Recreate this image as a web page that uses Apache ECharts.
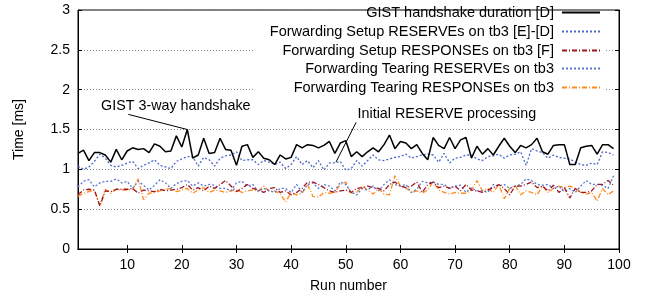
<!DOCTYPE html>
<html>
<head>
<meta charset="utf-8">
<title>GIST timing</title>
<script src="https://cdn.jsdelivr.net/npm/echarts@6/dist/echarts.min.js"></script>
</head>
<body style="margin:0">
<div id="main" style="width:646px;height:300px;"></div>
<script type="text/javascript">
// values, runs 1..99
var gist = [1.20,1.24,1.11,1.21,1.21,1.18,1.09,1.25,1.12,1.23,1.27,1.25,1.26,1.21,1.32,1.29,1.22,1.23,1.42,1.28,
    1.50,1.14,1.18,1.39,1.20,1.21,1.39,1.25,1.24,1.05,1.29,1.31,1.15,1.22,1.14,1.12,1.06,1.18,1.13,1.15,1.31,
    1.27,1.31,1.30,1.27,1.30,1.35,1.20,1.33,1.36,1.16,1.22,1.16,1.22,1.27,1.22,1.31,1.43,1.26,1.35,1.33,
    1.26,1.31,1.20,1.12,1.40,1.30,1.26,1.40,1.26,1.37,1.40,1.14,1.29,1.19,1.26,1.18,1.29,1.39,1.29,1.21,
    1.30,1.27,1.31,1.39,1.22,1.19,1.30,1.31,1.31,1.06,1.06,1.27,1.29,1.30,1.19,1.31,1.31,1.26];
var setupReserve = [1.04,1.00,1.03,1.10,1.19,1.14,1.05,1.03,1.05,1.08,1.10,1.01,1.05,1.08,1.12,1.05,1.03,1.01,1.10,1.13,
    1.16,1.16,1.04,1.15,1.12,1.04,1.14,1.17,1.18,1.22,1.11,1.12,1.12,1.06,1.11,1.09,1.06,1.09,1.01,1.06,1.16,
    1.06,1.11,1.02,1.11,0.99,1.08,1.08,1.10,0.99,1.01,1.11,1.04,1.11,1.18,1.12,1.11,1.13,1.15,1.16,1.19,
    1.14,1.16,1.18,1.19,1.18,1.09,1.20,1.08,1.14,1.15,1.18,1.18,1.13,1.11,1.16,1.17,1.19,1.14,1.18,1.19,
    1.22,1.05,1.26,1.23,1.21,1.14,1.18,1.15,1.14,1.13,1.09,1.06,1.05,1.08,1.06,1.22,1.21,1.18];
var setupResponse = [0.68,0.74,0.75,0.74,0.54,0.73,0.72,0.75,0.75,0.75,0.76,0.70,0.74,0.73,0.72,0.75,0.73,0.74,0.75,0.77,
    0.81,0.74,0.77,0.73,0.79,0.76,0.81,0.86,0.79,0.72,0.76,0.81,0.76,0.74,0.71,0.76,0.77,0.71,0.73,0.68,0.71,
    0.76,0.84,0.84,0.81,0.77,0.73,0.71,0.73,0.74,0.71,0.76,0.77,0.79,0.77,0.76,0.73,0.81,0.84,0.79,0.77,
    0.79,0.84,0.71,0.81,0.84,0.77,0.79,0.76,0.79,0.73,0.81,0.74,0.73,0.71,0.74,0.77,0.81,0.76,0.68,0.79,
    0.79,0.81,0.84,0.77,0.79,0.73,0.80,0.71,0.77,0.64,0.76,0.71,0.71,0.73,0.81,0.81,0.86,0.80];
var tearReserve = [0.78,0.85,0.87,0.78,0.83,0.85,0.85,0.88,0.83,0.85,0.76,0.85,0.80,0.74,0.80,0.87,0.83,0.76,0.82,0.85,
    0.86,0.79,0.83,0.79,0.81,0.80,0.76,0.76,0.73,0.83,0.85,0.79,0.81,0.72,0.76,0.73,0.71,0.76,0.76,0.71,0.81,
    0.71,0.81,0.83,0.76,0.81,0.79,0.73,0.84,0.81,0.71,0.68,0.76,0.74,0.79,0.73,0.81,0.87,0.81,0.79,0.81,
    0.71,0.75,0.85,0.83,0.84,0.81,0.81,0.76,0.79,0.80,0.71,0.77,0.73,0.73,0.71,0.81,0.79,0.81,0.76,0.79,
    0.81,0.88,0.86,0.81,0.80,0.81,0.76,0.79,0.72,0.76,0.71,0.79,0.86,0.81,0.81,0.80,0.76,0.92];
var tearResponse = [0.66,0.70,0.72,0.74,0.55,0.75,0.70,0.75,0.74,0.74,0.75,0.88,0.62,0.70,0.71,0.73,0.75,0.76,0.72,0.74,
    0.76,0.70,0.74,0.77,0.71,0.74,0.73,0.71,0.73,0.74,0.71,0.73,0.74,0.73,0.79,0.72,0.73,0.69,0.59,0.71,0.68,
    0.70,0.81,0.66,0.65,0.71,0.70,0.71,0.81,0.84,0.70,0.71,0.79,0.74,0.69,0.76,0.69,0.68,0.92,0.79,0.77,
    0.71,0.73,0.70,0.74,0.85,0.74,0.71,0.69,0.71,0.70,0.70,0.74,0.86,0.73,0.76,0.71,0.81,0.63,0.76,0.80,
    0.68,0.73,0.71,0.68,0.79,0.71,0.76,0.79,0.77,0.79,0.76,0.71,0.69,0.71,0.60,0.76,0.68,0.73];

var names = [
    'GIST handshake duration [D]',
    'Forwarding Setup RESERVEs on tb3 [E]-[D]',
    'Forwarding Setup RESPONSEs on tb3 [F]',
    'Forwarding Tearing RESERVEs on tb3',
    'Forwarding Tearing RESPONSEs on tb3'
];
var xTicks = [10, 20, 30, 40, 50, 60, 70, 80, 90, 100];

// annotations: [label, label position, arrow tail, arrow head] in data units
var notes = [
    ['GIST 3-way handshake', [18.9, 1.79], [10.2, 1.69], [21, 1.5]],
    ['Initial RESERVE processing', [68.5, 1.70], [51.9, 1.59], [48.2, 1.09]]
];

var FONT = 'Liberation Sans';

function pairs(arr) {
    var d = [];
    for (var i = 0; i < arr.length; i++) d.push([i + 1, arr[i]]);
    return d;
}

var styles = [
    { color: '#000000', width: 1.5, type: 'solid' },
    { color: '#4a68c8', width: 1.3, type: [2, 2] },
    { color: '#a0141e', width: 1.3, type: [5, 2, 1, 2] },
    { color: '#5a78d0', width: 1.3, type: [2, 2] },
    { color: '#ff8a1c', width: 1.3, type: [5, 2, 1, 2] }
];
var allData = [gist, setupReserve, setupResponse, tearReserve, tearResponse];

var series = [];
for (var k = 0; k < names.length; k++) {
    series.push({
        name: names[k],
        type: 'line',
        symbol: 'none',
        data: pairs(allData[k]),
        color: styles[k].color,
        lineStyle: styles[k],
        z: 10 - k
    });
}

// arrows + labels hang on the first series
series[0].markLine = {
    silent: true,
    symbol: ['none', 'arrow'],
    symbolSize: [0, 9],
    label: { show: false },
    lineStyle: { color: '#000', width: 1, type: 'solid' },
    data: notes.map(function (n) {
        return [{ coord: n[2] }, { coord: n[3] }];
    })
};
series[0].markPoint = {
    silent: true,
    symbol: 'rect',
    symbolSize: 1,
    itemStyle: { color: 'rgba(0,0,0,0)' },
    label: {
        show: true, position: 'inside', color: '#000',
        fontFamily: FONT, fontSize: 14.3,
        formatter: function (p) { return p.name; }
    },
    data: notes.map(function (n) {
        return { name: n[0], coord: n[1] };
    })
};

var legendTops = [5, 24, 43, 61, 80];
var legends = names.map(function (n, i) {
    return {
        data: [n],
        orient: 'horizontal',
        right: 45,
        top: legendTops[i],
        padding: 0,
        align: 'right',
        itemWidth: 38,
        itemHeight: 14,
        selectedMode: false,
        itemStyle: { opacity: 0 },
        textStyle: { fontFamily: FONT, fontSize: 14.5, color: '#000', padding: [0, 3, 0, 0] }
    };
});

var tickStyle = { show: true, inside: true, length: 4, lineStyle: { color: '#000', width: 1 } };

var option = {
    animation: false,
    backgroundColor: '#fff',
    textStyle: { fontFamily: FONT },
    grid: { left: 78, right: 27, top: 10, bottom: 51, show: true, borderColor: '#000', borderWidth: 1, backgroundColor: 'transparent' },
    legend: legends,
    graphic: [{
        type: 'rect', z: 1, silent: true,
        shape: { x: 253, y: 15, width: 352, height: 82 },
        style: { fill: '#fff' }
    }],
    xAxis: [{
        type: 'value', min: 1, max: 100,
        name: 'Run number', nameLocation: 'middle', nameGap: 30,
        nameTextStyle: { fontFamily: FONT, fontSize: 14, color: '#000' },
        axisLine: { show: true, lineStyle: { color: '#000' } },
        axisTick: Object.assign({ customValues: xTicks }, tickStyle),
        axisLabel: { customValues: xTicks, margin: 9, fontFamily: FONT, fontSize: 14, color: '#000' },
        splitLine: { show: false }
    }, {
        type: 'value', min: 1, max: 100, position: 'top',
        axisLine: { show: true, lineStyle: { color: '#000' } },
        axisTick: Object.assign({ customValues: xTicks }, tickStyle),
        axisLabel: { show: false },
        splitLine: { show: false }
    }],
    yAxis: [{
        type: 'value', min: 0, max: 3, interval: 0.5,
        name: 'Time [ms]', nameLocation: 'middle', nameGap: 52,
        nameTextStyle: { fontFamily: FONT, fontSize: 14, color: '#000' },
        axisLine: { show: true, lineStyle: { color: '#000' } },
        axisTick: tickStyle,
        axisLabel: { margin: 8, fontFamily: FONT, fontSize: 14, color: '#000' },
        splitLine: { show: true, lineStyle: { color: '#888', width: 1, type: [1, 2] } }
    }, {
        type: 'value', min: 0, max: 3, interval: 0.5, position: 'right',
        axisLine: { show: true, lineStyle: { color: '#000' } },
        axisTick: tickStyle,
        axisLabel: { show: false },
        splitLine: { show: false }
    }],
    series: series
};

var myChart = echarts.init(document.getElementById('main'), null, { renderer: 'canvas' });
myChart.setOption(option);
</script>
</body>
</html>
